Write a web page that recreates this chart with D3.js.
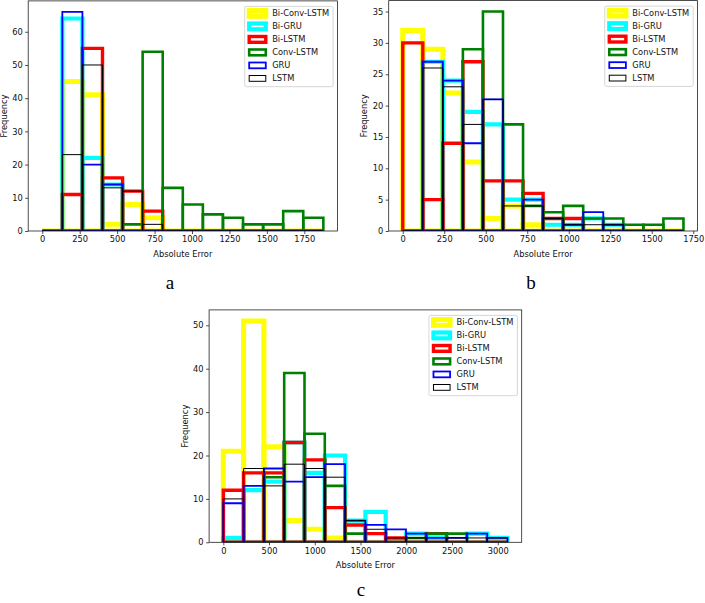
<!DOCTYPE html>
<html><head><meta charset="utf-8">
<script src="https://cdn.jsdelivr.net/npm/d3@7"></script>
<style>html,body{margin:0;padding:0;background:#fff}svg{display:block}</style>
</head><body>
<script>
// ---------- data ----------
const seriesNames = ["Bi-Conv-LSTM", "Bi-GRU", "Bi-LSTM", "Conv-LSTM", "GRU", "LSTM"];
const seriesColors = ["#ffff00", "#00ffff", "#ff0000", "#008000", "#0000ff", "#000000"];
const seriesWidths = [5, 4.2, 3.4, 2.6, 1.8, 1.0];

// panel a : 14 equal bins on [0, 1877]
const binRangeA = [0, 1877];
const countsA = [
  [0, 45, 41, 2, 8, 4, 0, 0, 0, 0, 0, 0, 0, 0],   // Bi-Conv-LSTM
  [0, 64, 22, 14, 0, 0, 0, 0, 0, 0, 0, 0, 0, 0],  // Bi-GRU
  [0, 11, 55, 16, 12, 6, 0, 0, 0, 0, 0, 0, 0, 0], // Bi-LSTM
  [0, 0, 0, 0, 2, 54, 13, 8, 5, 4, 2, 2, 6, 4],   // Conv-LSTM
  [0, 66, 20, 14, 0, 0, 0, 0, 0, 0, 0, 0, 0, 0],  // GRU
  [0, 23, 50, 13, 12, 2, 0, 0, 0, 0, 0, 0, 0, 0]  // LSTM
];
const xTicksA = [0, 250, 500, 750, 1000, 1250, 1500, 1750];
const yTicksA = [0, 10, 20, 30, 40, 50, 60];

// panel b : 14 equal bins on [0, 1691]
const binRangeB = [0, 1691];
const countsB = [
  [32, 29, 22, 11, 2, 4, 1, 0, 0, 0, 0, 0, 0, 0],
  [0, 27, 24, 19, 17, 5, 5, 1, 1, 2, 1, 0, 0, 0],
  [30, 5, 14, 27, 8, 8, 6, 2, 2, 0, 0, 0, 0, 0],
  [0, 0, 0, 29, 35, 17, 4, 3, 4, 2, 2, 1, 1, 2],
  [0, 27, 24, 14, 21, 0, 5, 2, 1, 3, 1, 0, 0, 0],
  [0, 26, 23, 17, 21, 4, 4, 2, 1, 1, 1, 0, 0, 0]
];
const xTicksB = [0, 250, 500, 750, 1000, 1250, 1500, 1750];
const yTicksB = [0, 5, 10, 15, 20, 25, 30, 35];

// panel c : 14 equal bins on [0, 3107]
const binRangeC = [0, 3107];
const countsC = [
  [21, 51, 22, 5, 3, 1, 0, 0, 0, 0, 0, 0, 0, 0],
  [1, 12, 14, 23, 16, 20, 5, 7, 0, 2, 1, 0, 2, 1],
  [12, 16, 16, 23, 19, 8, 4, 2, 1, 0, 2, 0, 0, 0],
  [0, 0, 15, 39, 25, 13, 2, 0, 0, 1, 2, 2, 0, 0],
  [9, 13, 17, 14, 15, 18, 5, 4, 3, 2, 1, 1, 2, 1],
  [10, 17, 13, 18, 17, 15, 5, 3, 1, 1, 0, 1, 1, 1]
];
const xTicksC = [0, 500, 1000, 1500, 2000, 2500, 3000];
const yTicksC = [0, 10, 20, 30, 40, 50];

const panelLabels = ["a", "b", "c"];
const xLabel = "Absolute Error";
const yLabel = "Frequency";

// ---------- layout ----------
const panels = [
  {counts: countsA, range: binRangeA, xTicks: xTicksA, yTicks: yTicksA, box: {l: 28.2, r: 337.4, t: 0.9, b: 231}, lab: {x: 170, y: 289}},
  {counts: countsB, range: binRangeB, xTicks: xTicksB, yTicks: yTicksB, box: {l: 388.7, r: 697.5, t: 0.6, b: 231}, lab: {x: 531, y: 289}},
  {counts: countsC, range: binRangeC, xTicks: xTicksC, yTicks: yTicksC, box: {l: 209.1, r: 521.7, t: 309.9, b: 542.3}, lab: {x: 361, y: 596}}
];
const FONT = "'DejaVu Sans', sans-serif";
const FS = 8.3;

const svg = d3.select("body").append("svg").attr("width", 705).attr("height", 603);
svg.append("rect").attr("width", 705).attr("height", 603).attr("fill", "#fff");

panels.forEach((p, pi) => {
  const nb = p.counts[0].length;
  const [lo, hi] = p.range;
  const span = hi - lo;
  const edges = d3.range(nb + 1).map(i => lo + i * span / nb);
  const ymax = d3.max(p.counts, s => d3.max(s));
  const x = d3.scaleLinear().domain([lo - 0.05 * span, hi + 0.05 * span]).range([p.box.l, p.box.r]);
  const y = d3.scaleLinear().domain([0, ymax * 1.05]).range([p.box.b, p.box.t]);

  const g = svg.append("g");
  const clipId = "clip" + pi;
  svg.append("clipPath").attr("id", clipId).append("rect")
    .attr("x", p.box.l).attr("y", p.box.t).attr("width", p.box.r - p.box.l).attr("height", p.box.b - p.box.t);

  const hg = g.append("g").attr("clip-path", `url(#${clipId})`);
  p.counts.forEach((s, si) => {
    const sg = hg.append("g");
    sg.selectAll("path").data(s).join("path")
      .attr("d", (v, i) => {
        const x0 = x(edges[i]), x1 = x(edges[i + 1]), y0 = y(0), y1 = y(v);
        return `M${x0},${y0}V${y1}H${x1}V${y0}Z`;
      })
      .attr("fill", "none")
      .attr("stroke", seriesColors[si]).attr("stroke-width", seriesWidths[si])
      .attr("stroke-linejoin", "miter").attr("stroke-linecap", "butt");
  });

  // axes
  const xAxis = d3.axisBottom(x).tickValues(p.xTicks).tickSize(3).tickPadding(2.5).tickFormat(d3.format("d"));
  const yAxis = d3.axisLeft(y).tickValues(p.yTicks).tickSize(3).tickPadding(2.5).tickFormat(d3.format("d"));
  const gx = g.append("g").attr("transform", `translate(0,${p.box.b})`).call(xAxis);
  const gy = g.append("g").attr("transform", `translate(${p.box.l},0)`).call(yAxis);
  [gx, gy].forEach(a => {
    a.select(".domain").remove();
    a.selectAll("line").attr("stroke", "#000").attr("stroke-width", 0.7);
    a.selectAll("text").attr("font-family", FONT).attr("font-size", FS).attr("fill", "#111");
  });

  // frame
  g.append("rect").attr("x", p.box.l).attr("y", p.box.t)
    .attr("width", p.box.r - p.box.l).attr("height", p.box.b - p.box.t)
    .attr("fill", "none").attr("stroke", "#222").attr("stroke-width", 0.8);

  // axis labels
  g.append("text").attr("x", (p.box.l + p.box.r) / 2).attr("y", p.box.b + 25.5)
    .attr("text-anchor", "middle").attr("font-family", FONT).attr("font-size", FS).attr("fill", "#111").text(xLabel);
  g.append("text").attr("transform", `translate(${p.box.l - 21.5},${(p.box.t + p.box.b) / 2}) rotate(-90)`)
    .attr("text-anchor", "middle").attr("font-family", FONT).attr("font-size", FS).attr("fill", "#111").text(yLabel);

  // legend
  const lg = g.append("g");
  const rowH = 13;
  const textX = 27.5;
  const lgBox = lg.append("rect");
  const texts = seriesNames.map((n, i) => lg.append("text").attr("x", textX).attr("y", 7 + i * rowH + 3)
    .attr("font-family", FONT).attr("font-size", FS).attr("fill", "#111").text(n));
  const tw = d3.max(texts, t => t.node().getComputedTextLength());
  const LW = textX + tw + 4;
  const LH = 7 + 5 * rowH + 8.3;
  seriesNames.forEach((n, i) => {
    lg.append("rect").attr("x", 4.5).attr("y", 7 + i * rowH - 2.9).attr("width", 16.6).attr("height", 5.8)
      .attr("fill", "none").attr("stroke", seriesColors[i]).attr("stroke-width", seriesWidths[i]);
  });
  texts.forEach(t => t.raise());
  lgBox.attr("x", 0).attr("y", 0).attr("width", LW).attr("height", LH).attr("rx", 1.8)
    .attr("fill", "#fff").attr("fill-opacity", 0.8).attr("stroke", "#ccc").attr("stroke-width", 0.8);
  lg.attr("transform", `translate(${p.box.r - 4.3 - LW},${p.box.t + 5.5})`);

  // panel label
  svg.append("text").attr("x", p.lab.x).attr("y", p.lab.y).attr("text-anchor", "middle")
    .attr("font-family", "'Liberation Serif', 'Times New Roman', serif").attr("font-size", 19).attr("fill", "#000")
    .text(panelLabels[pi]);
});
</script>
</body></html>
